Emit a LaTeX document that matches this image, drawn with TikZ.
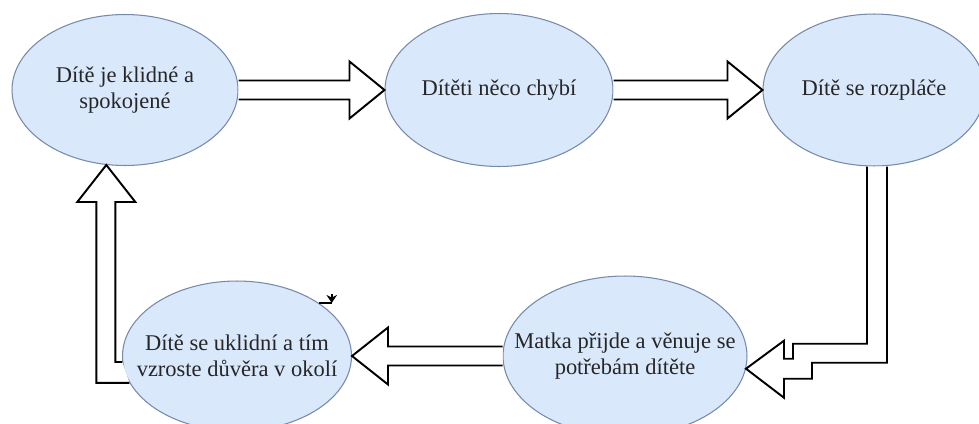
\documentclass[tikz,border=0pt]{standalone}
\usepackage{fontspec}
\setmainfont{Liberation Serif}
\usepackage{xcolor}
\definecolor{statefill}{RGB}{218, 232, 252}
\definecolor{stateline}{RGB}{118, 138, 170}
\usepackage{tikz}
\usetikzlibrary{arrows.meta, calc, shapes.geometric}

\begin{document}
\begin{tikzpicture}[
    x=0.02cm, y=-0.02cm,
    state/.style={ellipse, draw=stateline, fill=statefill, line width=0.6pt,
      inner xsep=-14pt, inner ysep=0pt, align=center, text=black!85,
      font=\fontsize{12.8}{14.5}\selectfont},
    hollow/.style={draw=black, fill=white, line width=1.1pt, line join=miter}
  ]
  \path[fill=white, use as bounding box] (0,0) rectangle (979,423);

  \node[state, minimum width=4.52cm, minimum height=3.02cm] (klid) at (125,90)
    {Dítě je klidné a\\spokojené};
  \node[state, minimum width=4.56cm, minimum height=3.06cm] (chybi) at (499,90)
    {Dítěti něco chybí};
  \node[state, minimum width=4.44cm, minimum height=3.04cm] (plac) at (874,90)
    {Dítě se rozpláče};
  \node[state, minimum width=4.88cm, minimum height=3.2cm] (matka) at (625,356)
    {Matka přijde a věnuje se\\potřebám dítěte};
  \node[state, minimum width=4.58cm, minimum height=3.0cm] (uklid) at (237,356)
    {Dítě se uklidní a tím\\vzroste důvěra v okolí};

  % straight block arrows
  \draw[hollow] ($(klid.east)+(0,-9.5)$) -- ($(chybi.west)+(-35,-9.5)$)
    -- ($(chybi.west)+(-35,-28.5)$) -- (chybi.west) -- ($(chybi.west)+(-35,28.5)$)
    -- ($(chybi.west)+(-35,9.5)$) -- ($(klid.east)+(0,9.5)$);
  \draw[hollow] ($(chybi.east)+(0,-9.5)$) -- ($(plac.west)+(-35,-9.5)$)
    -- ($(plac.west)+(-35,-28.5)$) -- (plac.west) -- ($(plac.west)+(-35,28.5)$)
    -- ($(plac.west)+(-35,9.5)$) -- ($(chybi.east)+(0,9.5)$);
  \draw[hollow] ($(matka.west)+(0,-9.5)$) -- ($(uklid.east)+(36,-9.5)$)
    -- ($(uklid.east)+(36,-28.5)$) -- (uklid.east) -- ($(uklid.east)+(36,28.5)$)
    -- ($(uklid.east)+(36,9.5)$) -- ($(matka.west)+(0,9.5)$);

  % elbow block arrows
  \coordinate (s1) at ($(plac.south)+(-7,0)$);
  \coordinate (s2) at ($(plac.south)+(13,0)$);
  \coordinate (t1) at (matka.-6);
  \coordinate (t1i) at ($(t1)+(0,-25)$);
  \coordinate (t1o) at ($(t1)+(0,-6)$);
  \draw[hollow] (s1) -- (s1 |- t1i) -- ($(t1)+(47,-25)$) -- ($(t1)+(47,-10)$)
    -- ($(t1)+(38,-10)$) -- ($(t1)+(38,-28)$) -- (t1) -- ($(t1)+(38,29)$)
    -- ($(t1)+(38,10)$) -- ($(t1)+(66,10)$) -- ($(t1)+(66,-6)$)
    -- (s2 |- t1o) -- (s2);

  \coordinate (u1) at (uklid.183.5);
  \coordinate (u2) at (uklid.194);
  \coordinate (t2) at (klid.-104);
  \coordinate (t2i) at ($(t2)+(9,0)$);
  \coordinate (t2o) at ($(t2)+(-10,0)$);
  \draw[hollow] (u2) -- (t2o |- u2) -- ($(t2)+(-10,37)$) -- ($(t2)+(-29,37)$)
    -- (t2) -- ($(t2)+(29,37)$) -- ($(t2)+(9,37)$) -- (t2i |- u1) -- (u1);

  \draw[line width=0.9pt] (uklid.33) -- ++(13,0) coordinate (mk);
  \draw[-{Stealth[length=4.5pt,width=6pt]}, line width=0.9pt]
    ($(mk)+(0,-9)$) -- (mk);
\end{tikzpicture}
\end{document}
